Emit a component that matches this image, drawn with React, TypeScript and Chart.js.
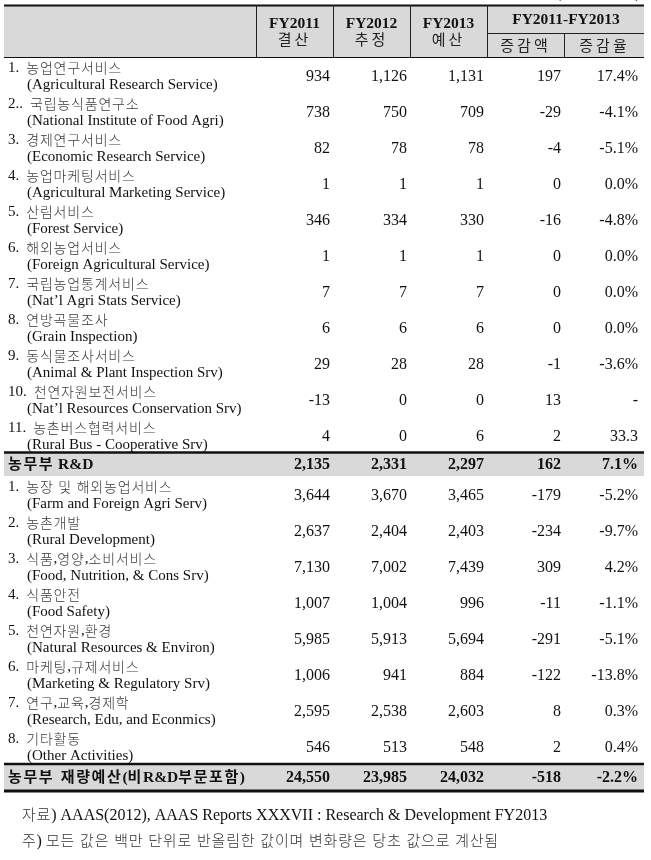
import React, { useEffect, useRef } from "react";
import { Chart, registerables } from "chart.js";

Chart.register(...registerables);

// ---------- data ----------
const HEADER_YEARS = ["FY2011", "FY2012", "FY2013"];
const HEADER_YEAR_SUB = ["결산", "추정", "예산"];
const HEADER_CHANGE = "FY2011-FY2013";
const HEADER_CHANGE_SUB = ["증감액", "증감율"];
const UNIT_NOTE = "(단위: 백만$)";

const RD_KO = [
  "1. 농업연구서비스",
  "2.. 국립농식품연구소",
  "3. 경제연구서비스",
  "4. 농업마케팅서비스",
  "5. 산림서비스",
  "6. 해외농업서비스",
  "7. 국립농업통계서비스",
  "8. 연방곡물조사",
  "9. 동식물조사서비스",
  "10. 천연자원보전서비스",
  "11. 농촌버스협력서비스",
];
const RD_EN = [
  "(Agricultural Research Service)",
  "(National Institute of Food Agri)",
  "(Economic Research Service)",
  "(Agricultural Marketing Service)",
  "(Forest Service)",
  "(Foreign Agricultural Service)",
  "(Nat’l Agri Stats Service)",
  "(Grain Inspection)",
  "(Animal & Plant Inspection Srv)",
  "(Nat’l Resources Conservation Srv)",
  "(Rural Bus - Cooperative Srv)",
];
const RD_FY2011 = [934, 738, 82, 1, 346, 1, 7, 6, 29, -13, 4];
const RD_FY2012 = [1126, 750, 78, 1, 334, 1, 7, 6, 28, 0, 0];
const RD_FY2013 = [1131, 709, 78, 1, 330, 1, 7, 6, 28, 0, 6];
const RD_CHANGE = [197, -29, -4, 0, -16, 0, 0, 0, -1, 13, 2];
const RD_RATE = ["17.4%", "-4.1%", "-5.1%", "0.0%", "-4.8%", "0.0%", "0.0%", "0.0%", "-3.6%", "-", "33.3"];

const RD_TOTAL_LABEL = "농무부 R&D";
const RD_TOTAL_VALUES = [2135, 2331, 2297, 162];
const RD_TOTAL_RATE = "7.1%";

const DEPT_KO = [
  "1. 농장 및 해외농업서비스",
  "2. 농촌개발",
  "3. 식품,영양,소비서비스",
  "4. 식품안전",
  "5. 천연자원,환경",
  "6. 마케팅,규제서비스",
  "7. 연구,교육,경제학",
  "8. 기타활동",
];
const DEPT_EN = [
  "(Farm and Foreign Agri Serv)",
  "(Rural Development)",
  "(Food, Nutrition, & Cons Srv)",
  "(Food Safety)",
  "(Natural Resources & Environ)",
  "(Marketing & Regulatory Srv)",
  "(Research, Edu, and Econmics)",
  "(Other Activities)",
];
const DEPT_FY2011 = [3644, 2637, 7130, 1007, 5985, 1006, 2595, 546];
const DEPT_FY2012 = [3670, 2404, 7002, 1004, 5913, 941, 2538, 513];
const DEPT_FY2013 = [3465, 2403, 7439, 996, 5694, 884, 2603, 548];
const DEPT_CHANGE = [-179, -234, 309, -11, -291, -122, 8, 2];
const DEPT_RATE = ["-5.2%", "-9.7%", "4.2%", "-1.1%", "-5.1%", "-13.8%", "0.3%", "0.4%"];

const TOTAL_LABEL = "농무부 재량예산(비R&D부문포함)";
const TOTAL_VALUES = [24550, 23985, 24032, -518];
const TOTAL_RATE = "-2.2%";

const FOOTNOTES = [
  "자료) AAAS(2012), AAAS Reports XXXVII : Research & Development FY2013",
  "주) 모든 값은 백만 단위로 반올림한 값이며 변화량은 당초 값으로 계산됨",
];

// ---------- layout (y in page-pixel units of the y scale) ----------
const W = 651;
const H = 860;
const TABLE_L = 4;
const TABLE_R = 644;
const HEAD_TOP = 5;
const HEAD_MID = 33;
const HEAD_BOT = 57;
const ROW_H = 36;
const BAND_H = 24;
const TOTAL_H = 26;
const RD_TOP = HEAD_BOT;
const RD_BAND_TOP = RD_TOP + ROW_H * RD_KO.length - 1;
const DEPT_TOP = RD_BAND_TOP + BAND_H;
const TOTAL_TOP = DEPT_TOP + ROW_H * DEPT_KO.length;
const FOOT_Y = [815, 841];
const COL_W = 77; // x-scale unit
const GRAY = "#d9d9d9";

const LATIN = "'Liberation Serif', 'DejaVu Serif', serif";
const KO = "'Noto Sans CJK KR', 'Noto Sans CJK SC', sans-serif";

const fmt = (n: number) => n.toLocaleString("en-US");

type Style = {
  size: number;
  koSize: number;
  bold?: boolean;
  koBold?: boolean;
  koSpacing?: number;
  color?: string;
  koColor?: string;
  koWeight?: number;
};

const KO_RE = /[\u3131-\u318e\uac00-\ud7a3]+(?:\s+[\u3131-\u318e\uac00-\ud7a3]+)*/g;

function splitRuns(text: string) {
  const runs: { t: string; ko: boolean }[] = [];
  let last = 0;
  let m: RegExpExecArray | null;
  KO_RE.lastIndex = 0;
  while ((m = KO_RE.exec(text))) {
    if (m.index > last) runs.push({ t: text.slice(last, m.index), ko: false });
    runs.push({ t: m[0], ko: true });
    last = m.index + m[0].length;
  }
  if (last < text.length) runs.push({ t: text.slice(last), ko: false });
  return runs;
}

function setFont(ctx: any, ko: boolean, s: Style) {
  if (ko) {
    const w = s.koBold ?? s.bold ? "bold" : String(s.koWeight ?? 400);
    ctx.font = `${w} ${s.koSize}px ${KO}`;
    ctx.fillStyle = s.koColor ?? "#333";
  } else {
    const w = s.bold ? "bold " : "";
    ctx.font = `${w}${s.size}px ${LATIN}`;
    ctx.fillStyle = s.color ?? "#111";
  }
}

function runWidth(ctx: any, r: { t: string; ko: boolean }, s: Style) {
  setFont(ctx, r.ko, s);
  if (!r.ko) return ctx.measureText(r.t).width;
  const sp = s.koSpacing ?? 1;
  let w = 0;
  for (const ch of r.t) w += ctx.measureText(ch).width + (ch === " " ? sp * 2 : sp);
  return w;
}

function drawMixed(ctx: any, text: string, x: number, y: number, align: "left" | "right" | "center", s: Style) {
  const runs = splitRuns(text);
  const widths = runs.map((r) => runWidth(ctx, r, s));
  const total = widths.reduce((a, b) => a + b, 0);
  let cx = align === "left" ? x : align === "right" ? x - total : x - total / 2;
  ctx.textAlign = "left";
  ctx.textBaseline = "alphabetic";
  const base = y + s.size * 0.33;
  runs.forEach((r, i) => {
    setFont(ctx, r.ko, s);
    if (!r.ko) {
      ctx.fillText(r.t, cx, base);
    } else {
      const sp = s.koSpacing ?? 1;
      let px = cx;
      const kb = y + s.koSize * 0.36;
      for (const ch of r.t) {
        ctx.fillText(ch, px, kb);
        px += ctx.measureText(ch).width + (ch === " " ? sp * 2 : sp);
      }
    }
    cx += widths[i];
  });
}

function drawLabel(ctx: any, text: string, x: number, y: number, s: Style) {
  const m = text.match(/^(\d+\.+)\s*(.*)$/);
  if (!m) {
    drawMixed(ctx, text, x, y, "left", s);
    return;
  }
  drawMixed(ctx, m[1], x, y, "left", s);
  setFont(ctx, false, s);
  const w = ctx.measureText(m[1]).width;
  drawMixed(ctx, m[2], x + w + 7, y, "left", s);
}

type Row = {
  kind: "item" | "band" | "total";
  top: number;
  ko: string;
  en?: string;
  values: number[];
  rate: string;
};

function buildRows(): Row[] {
  const rows: Row[] = [];
  RD_KO.forEach((ko, i) =>
    rows.push({
      kind: "item",
      top: RD_TOP + ROW_H * i,
      ko,
      en: RD_EN[i],
      values: [RD_FY2011[i], RD_FY2012[i], RD_FY2013[i], RD_CHANGE[i]],
      rate: RD_RATE[i],
    })
  );
  rows.push({ kind: "band", top: RD_BAND_TOP, ko: RD_TOTAL_LABEL, values: RD_TOTAL_VALUES, rate: RD_TOTAL_RATE });
  DEPT_KO.forEach((ko, i) =>
    rows.push({
      kind: "item",
      top: DEPT_TOP + ROW_H * i,
      ko,
      en: DEPT_EN[i],
      values: [DEPT_FY2011[i], DEPT_FY2012[i], DEPT_FY2013[i], DEPT_CHANGE[i]],
      rate: DEPT_RATE[i],
    })
  );
  rows.push({ kind: "total", top: TOTAL_TOP, ko: TOTAL_LABEL, values: TOTAL_VALUES, rate: TOTAL_RATE });
  return rows;
}

const valueY = (r: Row) => (r.kind === "item" ? r.top + 19 : r.kind === "band" ? r.top + BAND_H / 2 : r.top + TOTAL_H / 2);

export default function App() {
  const ref = useRef<HTMLCanvasElement | null>(null);

  useEffect(() => {
    if (!ref.current) return;
    const rows = buildRows();
    const cellText = (r: Row, c: number) => (c < 4 ? fmt(r.values[c]) : r.rate);

    // one dataset per numeric column; each point anchors a cell (right edge, middle)
    const datasets = [0, 1, 2, 3, 4].map((c) => ({
      label: c < 3 ? HEADER_YEARS[c] : HEADER_CHANGE_SUB[c - 3],
      data: rows.map((r) => ({ x: c, y: valueY(r) })),
      pointRadius: 0,
      showLine: false,
    }));

    const tablePlugin = {
      id: "tablePlugin",
      beforeDatasetsDraw(chart: any) {
        const ctx = chart.ctx;
        const xs = chart.scales.x;
        const ys = chart.scales.y;
        const X = (v: number) => xs.getPixelForValue(v);
        const Y = (v: number) => ys.getPixelForValue(v);
        const colEdge = (c: number) => X(c) + 3; // right edge of column c
        ctx.save();
        ctx.fillStyle = "#fff";
        ctx.fillRect(0, 0, chart.width, chart.height);
        ctx.fillStyle = GRAY;
        ctx.fillRect(TABLE_L, Y(HEAD_TOP), TABLE_R - TABLE_L, Y(HEAD_BOT) - Y(HEAD_TOP));
        rows.forEach((r) => {
          if (r.kind === "band") {
            ctx.fillStyle = GRAY;
            ctx.fillRect(TABLE_L, Y(r.top), TABLE_R - TABLE_L, Y(r.top + BAND_H) - Y(r.top));
          }
          if (r.kind === "total") {
            ctx.fillStyle = GRAY;
            ctx.fillRect(TABLE_L, Y(r.top), TABLE_R - TABLE_L, Y(r.top + TOTAL_H) - Y(r.top));
          }
        });
        const hline = (y: number, x1: number, x2: number, w: number, color = "#111") => {
          ctx.strokeStyle = color;
          ctx.lineWidth = w;
          ctx.beginPath();
          ctx.moveTo(x1, y);
          ctx.lineTo(x2, y);
          ctx.stroke();
        };
        const vline = (x: number, y1: number, y2: number) => {
          ctx.strokeStyle = "#222";
          ctx.lineWidth = 1;
          ctx.beginPath();
          ctx.moveTo(Math.round(x) + 0.5, y1);
          ctx.lineTo(Math.round(x) + 0.5, y2);
          ctx.stroke();
        };
        hline(Y(HEAD_TOP) + 0.5, TABLE_L, TABLE_R, 2);
        hline(Y(HEAD_BOT) + 0.5, TABLE_L, TABLE_R, 1.2);
        for (let c = -1; c <= 2; c++) vline(colEdge(c), Y(HEAD_TOP), Y(HEAD_BOT));
        vline(colEdge(3), Y(HEAD_MID), Y(HEAD_BOT));
        hline(Y(HEAD_MID) + 0.5, colEdge(2), TABLE_R, 1, "#222");
        rows.forEach((r) => {
          if (r.kind === "band") hline(Y(r.top) + 0.5, TABLE_L, TABLE_R, 2.5);
          if (r.kind === "total") {
            hline(Y(r.top), TABLE_L, TABLE_R, 2.5);
            hline(Y(r.top + TOTAL_H) + 1, TABLE_L, TABLE_R, 3);
          }
        });
        ctx.restore();
      },
      afterDatasetsDraw(chart: any) {
        const ctx = chart.ctx;
        const xs = chart.scales.x;
        const ys = chart.scales.y;
        const X = (v: number) => xs.getPixelForValue(v);
        const Y = (v: number) => ys.getPixelForValue(v);
        ctx.save();
        const base: Style = { size: 15, koSize: 14, koSpacing: 0.8, koColor: "#3a3a3a", koWeight: 300 };
        const head: Style = { size: 15.5, koSize: 15, koSpacing: 3, bold: true };
        const headKo: Style = { size: 15, koSize: 15, koSpacing: 3, koColor: "#222", koWeight: 400 };
        // unit note (cut off at top)
        drawMixed(ctx, UNIT_NOTE, TABLE_R - 4, Y(-6.5), "right", { size: 14, koSize: 13, koSpacing: 3 });
        // header
        HEADER_YEARS.forEach((t, c) => {
          const cx = X(c) + 3 - COL_W / 2;
          drawMixed(ctx, t, cx, Y(23), "center", head);
          drawMixed(ctx, HEADER_YEAR_SUB[c], cx, Y(40), "center", headKo);
        });
        drawMixed(ctx, HEADER_CHANGE, (X(3) + X(4)) / 2 + 3 - COL_W / 2 + 2, Y(19), "center", head);
        HEADER_CHANGE_SUB.forEach((t, i) => {
          const cx = X(3 + i) + 3 - COL_W / 2 + (i === 1 ? 2 : 0);
          drawMixed(ctx, t, cx, Y(46), "center", headKo);
        });
        // row labels
        rows.forEach((r) => {
          if (r.kind === "item") {
            drawLabel(ctx, r.ko, 8, Y(r.top + 10.5), base);
            drawMixed(ctx, r.en!, 27, Y(r.top + 27), "left", base);
          } else {
            drawMixed(ctx, r.ko, 8, Y(valueY(r)), "left", {
              size: 15.5,
              koSize: 15,
              koSpacing: 1.6,
              bold: true,
              koColor: "#111",
            });
          }
        });
        // cells from dataset element positions
        datasets.forEach((_, c) => {
          const meta = chart.getDatasetMeta(c);
          meta.data.forEach((pt: any, j: number) => {
            const r = rows[j];
            const bold = r.kind !== "item";
            drawMixed(ctx, cellText(r, c), pt.x, pt.y, "right", { size: 16, koSize: 13, bold });
          });
        });
        // footnotes
        FOOTNOTES.forEach((t, i) =>
          drawMixed(ctx, t, 22, Y(FOOT_Y[i]), "left", { size: 16, koSize: 15, koSpacing: 0.8, koColor: "#333", koWeight: 300 })
        );
        ctx.restore();
      },
    };

    const chart = new Chart(ref.current, {
      type: "scatter",
      data: { datasets },
      options: {
        animation: false,
        responsive: false,
        maintainAspectRatio: false,
        events: [],
        layout: { padding: 0 },
        plugins: { legend: { display: false }, tooltip: { enabled: false }, title: { display: false } },
        scales: {
          x: { type: "linear", display: false, min: -330 / COL_W, max: (W - 330) / COL_W },
          y: { type: "linear", display: false, min: 0, max: H, reverse: true },
        },
      },
      plugins: [tablePlugin],
    } as any);
    return () => chart.destroy();
  }, []);

  return (
    <div style={{ position: "absolute", left: 0, top: 0, width: W, height: H, background: "#fff" }}>
      <canvas ref={ref} width={W} height={H} style={{ width: W, height: H, display: "block" }} />
    </div>
  );
}
